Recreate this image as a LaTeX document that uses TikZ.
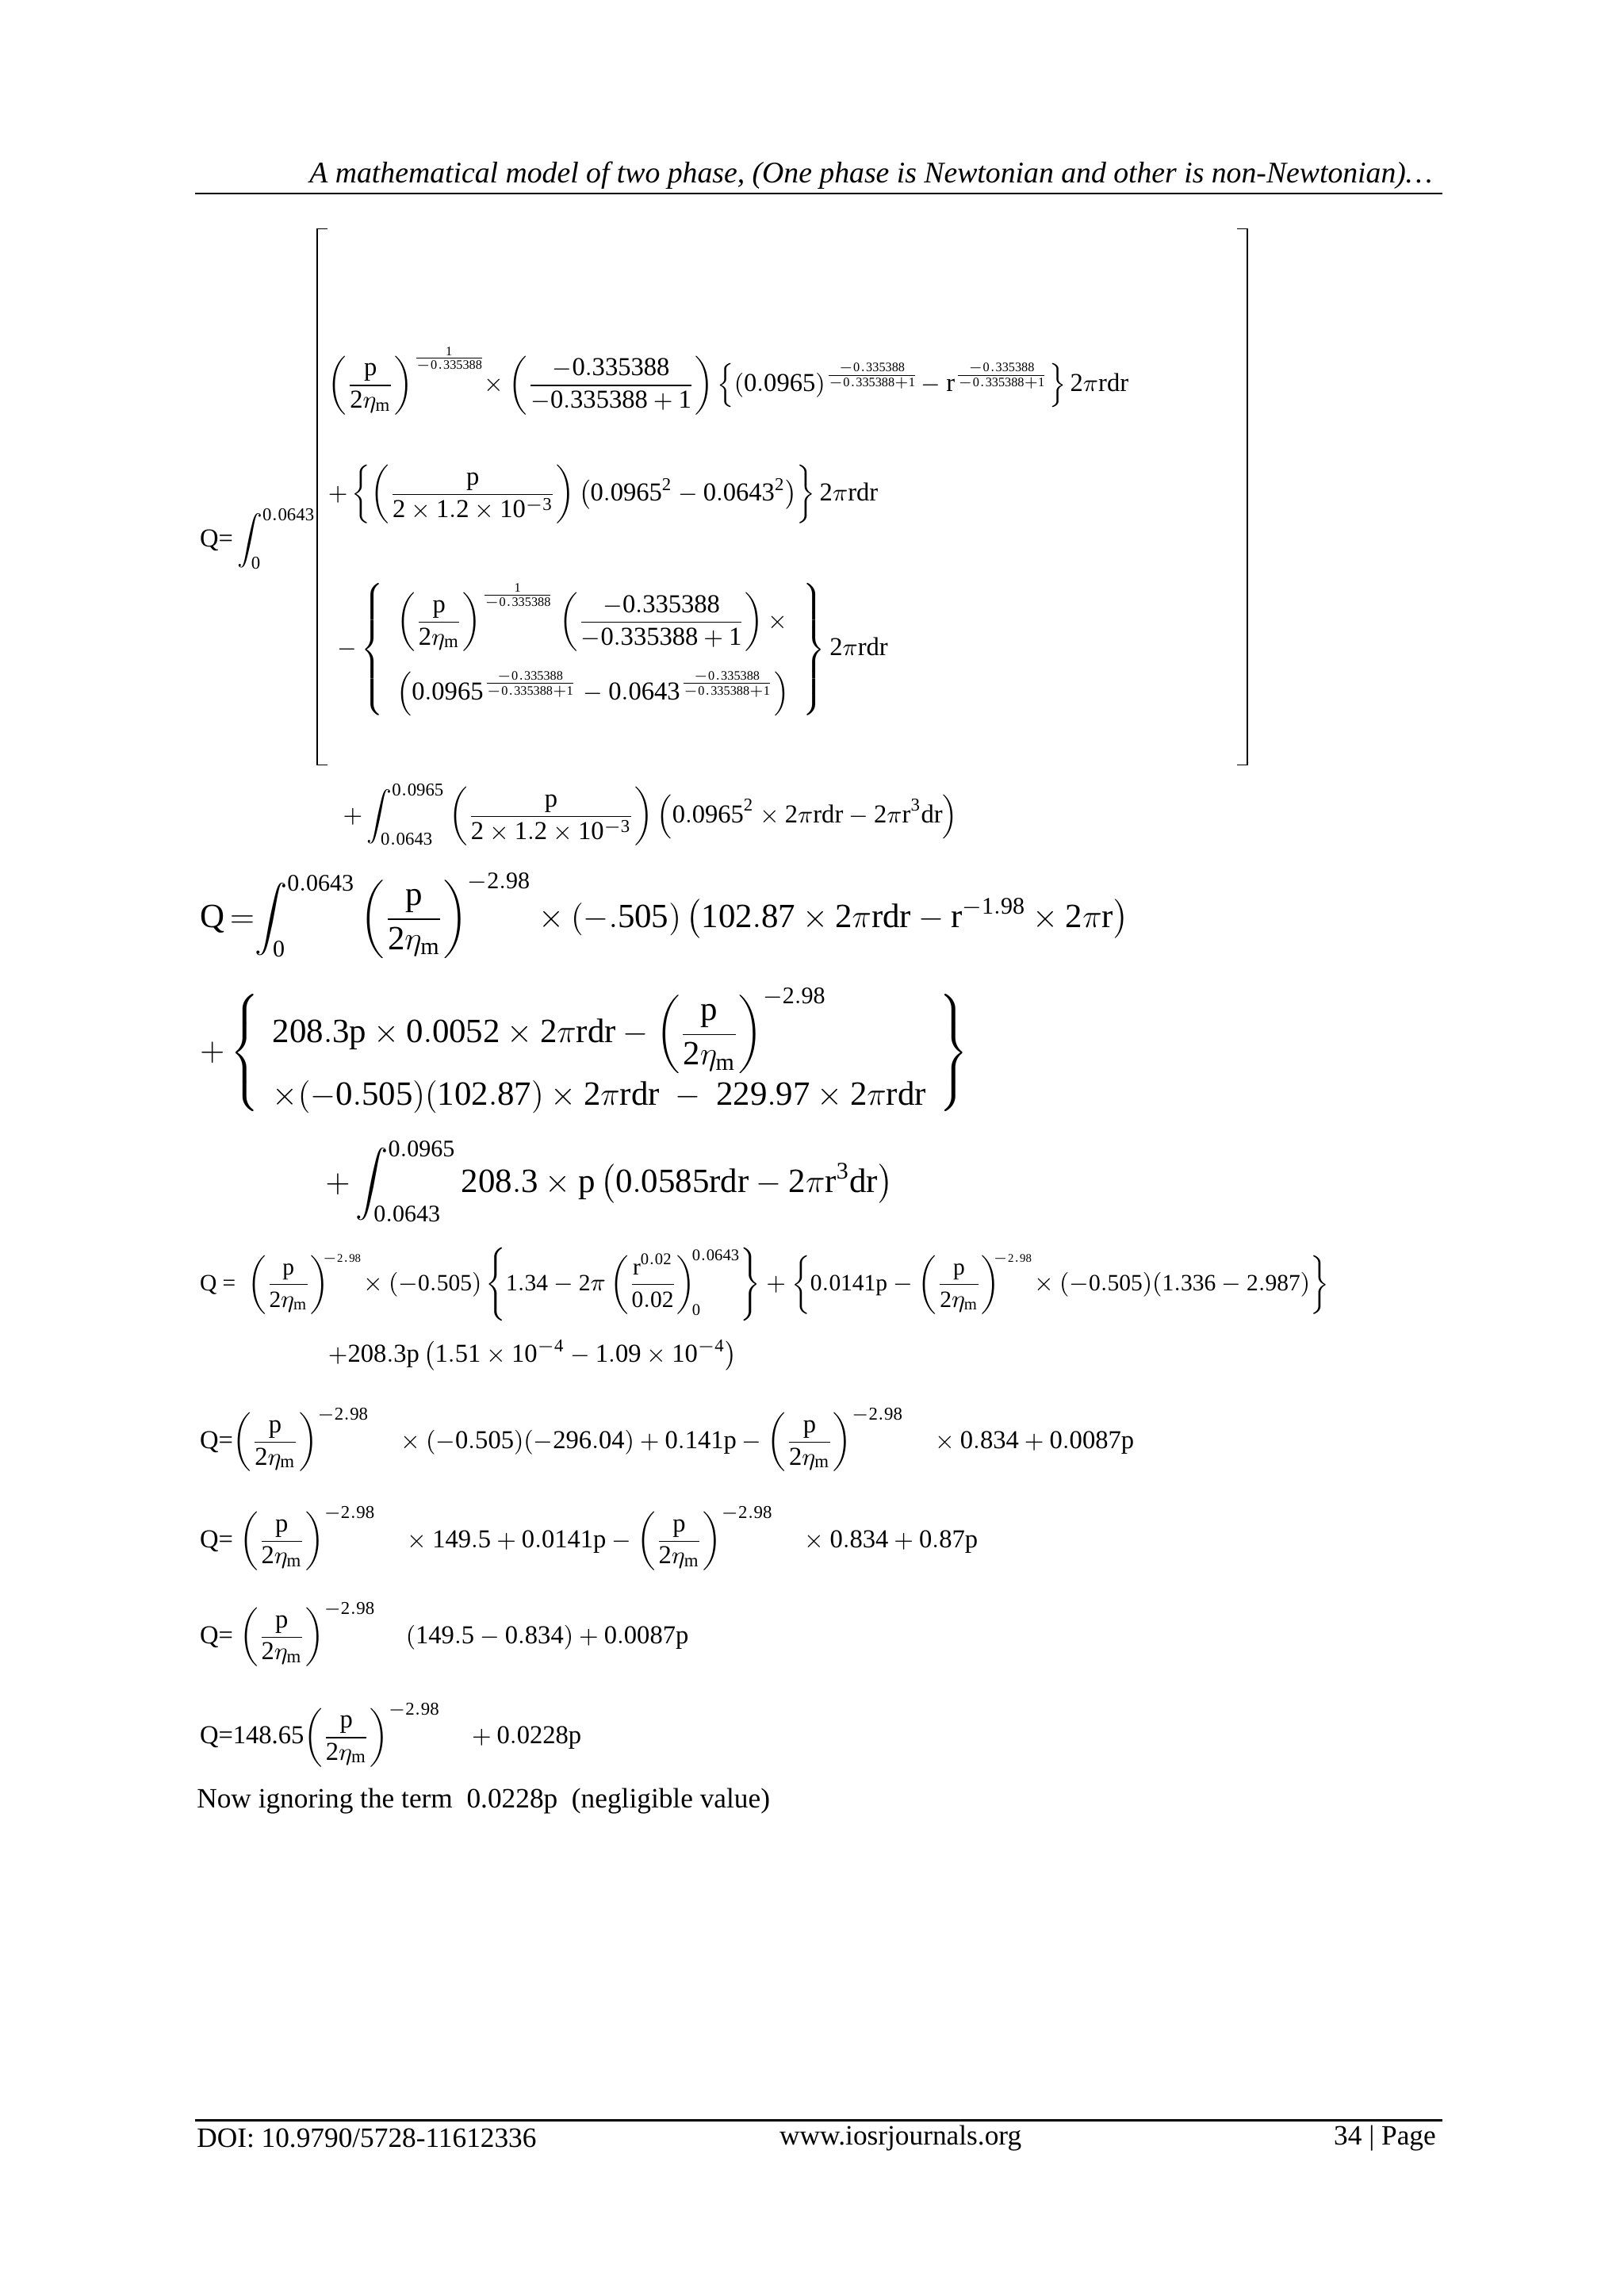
\documentclass[tikz,border=0pt]{standalone}
\usepackage{amsmath}
\usepackage{fontspec}
\setmainfont{Liberation Serif}
\newcommand{\mm}[1]{\ensuremath{\mathrm{#1}}}
\begin{document}
\begin{tikzpicture}[x=0.01909cm,y=-0.01909cm,
  lbl/.style={anchor=west,inner sep=0pt},
  big/.style={lbl,font=\fontsize{12.5}{15}\selectfont},
  sm/.style={lbl,font=\fontsize{9.5}{12}\selectfont}]
\useasboundingbox (0,0) rectangle (1100,1555);
\node[font=\fontsize{11}{13}\selectfont\itshape] (hdr) at (590,119) {A mathematical model of two phase, (One phase is Newtonian and other is non-Newtonian)\dots};
\draw[line width=0.6pt] (132,131) -- (977,131);
% Eq 1
\node[sm] (q1) at (135,365) {Q=\,\mm{\displaystyle\int_{0}^{0.0643}}};
\draw[line width=0.5pt] (222,155) -- (215,155) -- (215,518) -- (222,518);
\draw[line width=0.5pt] (838,155) -- (845,155) -- (845,518) -- (838,518);
\node[sm] (r1) at (222,258) {\mm{\left(\dfrac{p}{2\eta_m}\right)^{\frac{1}{-0.335388}}\!\!\times\left(\dfrac{-0.335388}{-0.335388+1}\right)\left\{(0.0965)^{\frac{-0.335388}{-0.335388+1}}\!-r^{\frac{-0.335388}{-0.335388+1}}\right\}2\pi rdr}};
\node[sm] (r2) at (222,335) {\mm{+\left\{\left(\dfrac{p}{2\times1.2\times10^{-3}}\right)\left(0.0965^2-0.0643^2\right)\right\}2\pi rdr}};
\node[sm] (r3) at (228,440) {\mm{-\left\{\begin{array}{l}\mm{\left(\dfrac{p}{2\eta_m}\right)^{\frac{1}{-0.335388}}\left(\dfrac{-0.335388}{-0.335388+1}\right)\times}\\[12pt] \mm{\left(0.0965^{\frac{-0.335388}{-0.335388+1}}-0.0643^{\frac{-0.335388}{-0.335388+1}}\right)}\end{array}\right\}2\pi rdr}};
\node[sm] (r4) at (232,552) {\mm{+\displaystyle\int_{0.0643}^{0.0965}\left(\dfrac{p}{2\times1.2\times10^{-3}}\right)\left(0.0965^2\times2\pi rdr-2\pi r^3dr\right)}};
% Eq 2
\node[big] (q2) at (135,620) {Q$\,=$\mm{\displaystyle\int_{0}^{0.0643}\left(\dfrac{p}{2\eta_m}\right)^{-2.98}\times(-.505)\left(102.87\times2\pi rdr-r^{-1.98}\times2\pi r\right)}};
\node[big] (q3) at (135,713) {\mm{+\left\{\begin{array}{l}\mm{208.3p\times0.0052\times2\pi rdr-\left(\dfrac{p}{2\eta_m}\right)^{-2.98}}\\[8pt] \mm{\times(-0.505)(102.87)\times2\pi rdr\ -\ 229.97\times2\pi rdr}\end{array}\right\}}};
\node[big] (q4) at (220,800) {\mm{+\displaystyle\int_{0.0643}^{0.0965}208.3\times p\left(0.0585rdr-2\pi r^3dr\right)}};
% Eq 3
\node[sm,font=\fontsize{8.6}{11}\selectfont] (q5) at (135,870) {Q =\ \ \mm{\left(\dfrac{p}{2\eta_m}\right)^{\!\!\scriptscriptstyle -2.98}\!\times(-0.505)\left\{1.34-2\pi\left(\dfrac{r^{0.02}}{0.02}\right)_{\!0}^{\!0.0643}\right\}+\left\{0.0141p-\left(\dfrac{p}{2\eta_m}\right)^{\!\!\scriptscriptstyle -2.98}\!\times(-0.505)(1.336-2.987)\right\}}};
\node[sm] (q6) at (222,918) {\mm{+208.3p\left(1.51\times10^{-4}-1.09\times10^{-4}\right)}};
\node[sm] (q7) at (135,975) {Q=\mm{\left(\dfrac{p}{2\eta_m}\right)^{-2.98}\quad\times(-0.505)(-296.04)+0.141p-\left(\dfrac{p}{2\eta_m}\right)^{-2.98}\quad\times0.834+0.0087p}};
\node[sm] (q8) at (135,1042) {Q=\ \mm{\left(\dfrac{p}{2\eta_m}\right)^{-2.98}\quad\times149.5+0.0141p-\left(\dfrac{p}{2\eta_m}\right)^{-2.98}\quad\times0.834+0.87p}};
\node[sm] (q9) at (135,1107) {Q=\ \mm{\left(\dfrac{p}{2\eta_m}\right)^{-2.98}\quad(149.5-0.834)+0.0087p}};
\node[sm] (q10) at (135,1175) {Q=148.65\mm{\left(\dfrac{p}{2\eta_m}\right)^{-2.98}\quad+0.0228p}};
\node[sm,font=\fontsize{10.3}{13}\selectfont] (t1) at (133,1220) {Now ignoring the term\ \ 0.0228p\ \ (negligible value)};
% footer
\draw[line width=0.6pt] (132,1436) -- (977,1436);
\node[sm,font=\fontsize{10.3}{13}\selectfont] (f1) at (133,1448) {DOI: 10.9790/5728-11612336};
\node[font=\fontsize{10.3}{13}\selectfont,inner sep=0pt] (f2) at (610,1448) {www.iosrjournals.org};
\node[font=\fontsize{10.3}{13}\selectfont,inner sep=0pt,anchor=east] (f3) at (973,1448) {34 | Page};
\end{tikzpicture}
\end{document}
